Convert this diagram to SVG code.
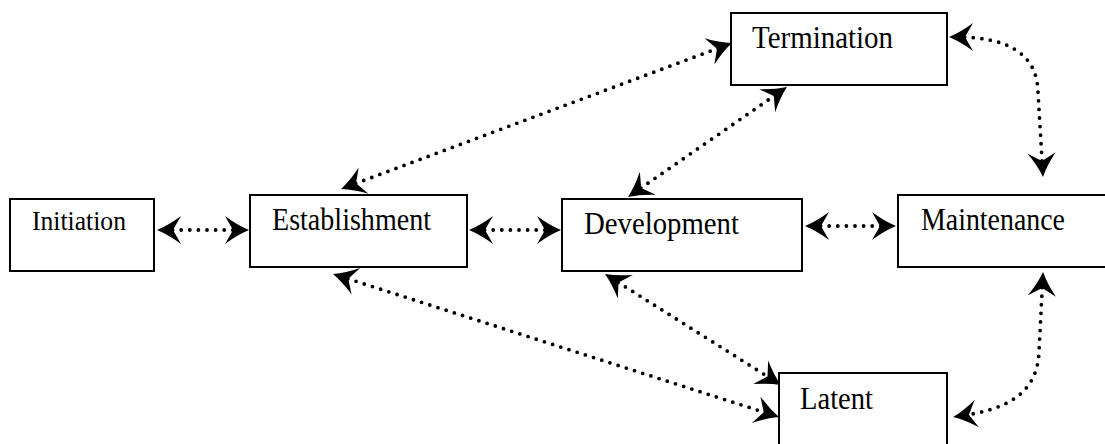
<svg xmlns="http://www.w3.org/2000/svg" width="1105" height="444" viewBox="0 0 1105 444">
<style>
.box{fill:#fff;stroke:#000;stroke-width:2}
.lbl{font-family:"Liberation Serif","Times New Roman",serif;font-size:31px;fill:#000}
.con{fill:none;stroke:#000;stroke-width:3.8;stroke-linecap:round;stroke-dasharray:0 8.6;marker-start:url(#ah);marker-end:url(#ah)}
</style>
<defs>
<marker id="ah" viewBox="-26 -16 28 32" refX="-7" refY="0" markerWidth="28" markerHeight="32" markerUnits="userSpaceOnUse" orient="auto-start-reverse">
<path d="M0,0 Q-12,-5 -24,-14 L-16,0 L-24,14 Q-12,5 0,0 Z" fill="#000"/>
</marker>
</defs>
<rect width="1105" height="444" fill="#fff"/>
<g id="connectors">
<path class="con" d="M164,230 L242,230"/>
<path class="con" d="M476,230 L554,230"/>
<path class="con" d="M812,226 L889,226"/>
<path class="con" d="M347.6,186.5 L725.4,45.5"/>
<path class="con" d="M633.8,193 L781.2,91"/>
<path class="con" d="M956,37 C1002,37 1037,50 1038,92 L1042.6,170"/>
<path class="con" d="M339.7,276.1 L772.3,414.9"/>
<path class="con" d="M610.9,277.7 L775.1,381.3"/>
<path class="con" d="M1042.7,279 L1039,352 C1037,398 1000,410 960,416"/>
</g>
<g id="initiation">
<rect class="box" x="10" y="199" width="144" height="72"/>
<text class="lbl" x="32" y="230" style="font-size:28px" textLength="94" lengthAdjust="spacingAndGlyphs">Initiation</text>
</g>
<g id="establishment">
<rect class="box" x="250" y="195" width="217" height="72"/>
<text class="lbl" x="272" y="230" textLength="159" lengthAdjust="spacingAndGlyphs">Establishment</text>
</g>
<g id="development">
<rect class="box" x="562" y="199" width="240" height="72"/>
<text class="lbl" x="584" y="234" textLength="155" lengthAdjust="spacingAndGlyphs">Development</text>
</g>
<g id="maintenance">
<rect class="box" x="898" y="195" width="215" height="72"/>
<text class="lbl" x="921" y="230" textLength="144" lengthAdjust="spacingAndGlyphs">Maintenance</text>
</g>
<g id="termination">
<rect class="box" x="731" y="13" width="216" height="72"/>
<text class="lbl" x="752" y="48" textLength="141" lengthAdjust="spacingAndGlyphs">Termination</text>
</g>
<g id="latent">
<rect class="box" x="779" y="373" width="168" height="80"/>
<text class="lbl" x="800" y="409" textLength="73" lengthAdjust="spacingAndGlyphs">Latent</text>
</g>
</svg>
